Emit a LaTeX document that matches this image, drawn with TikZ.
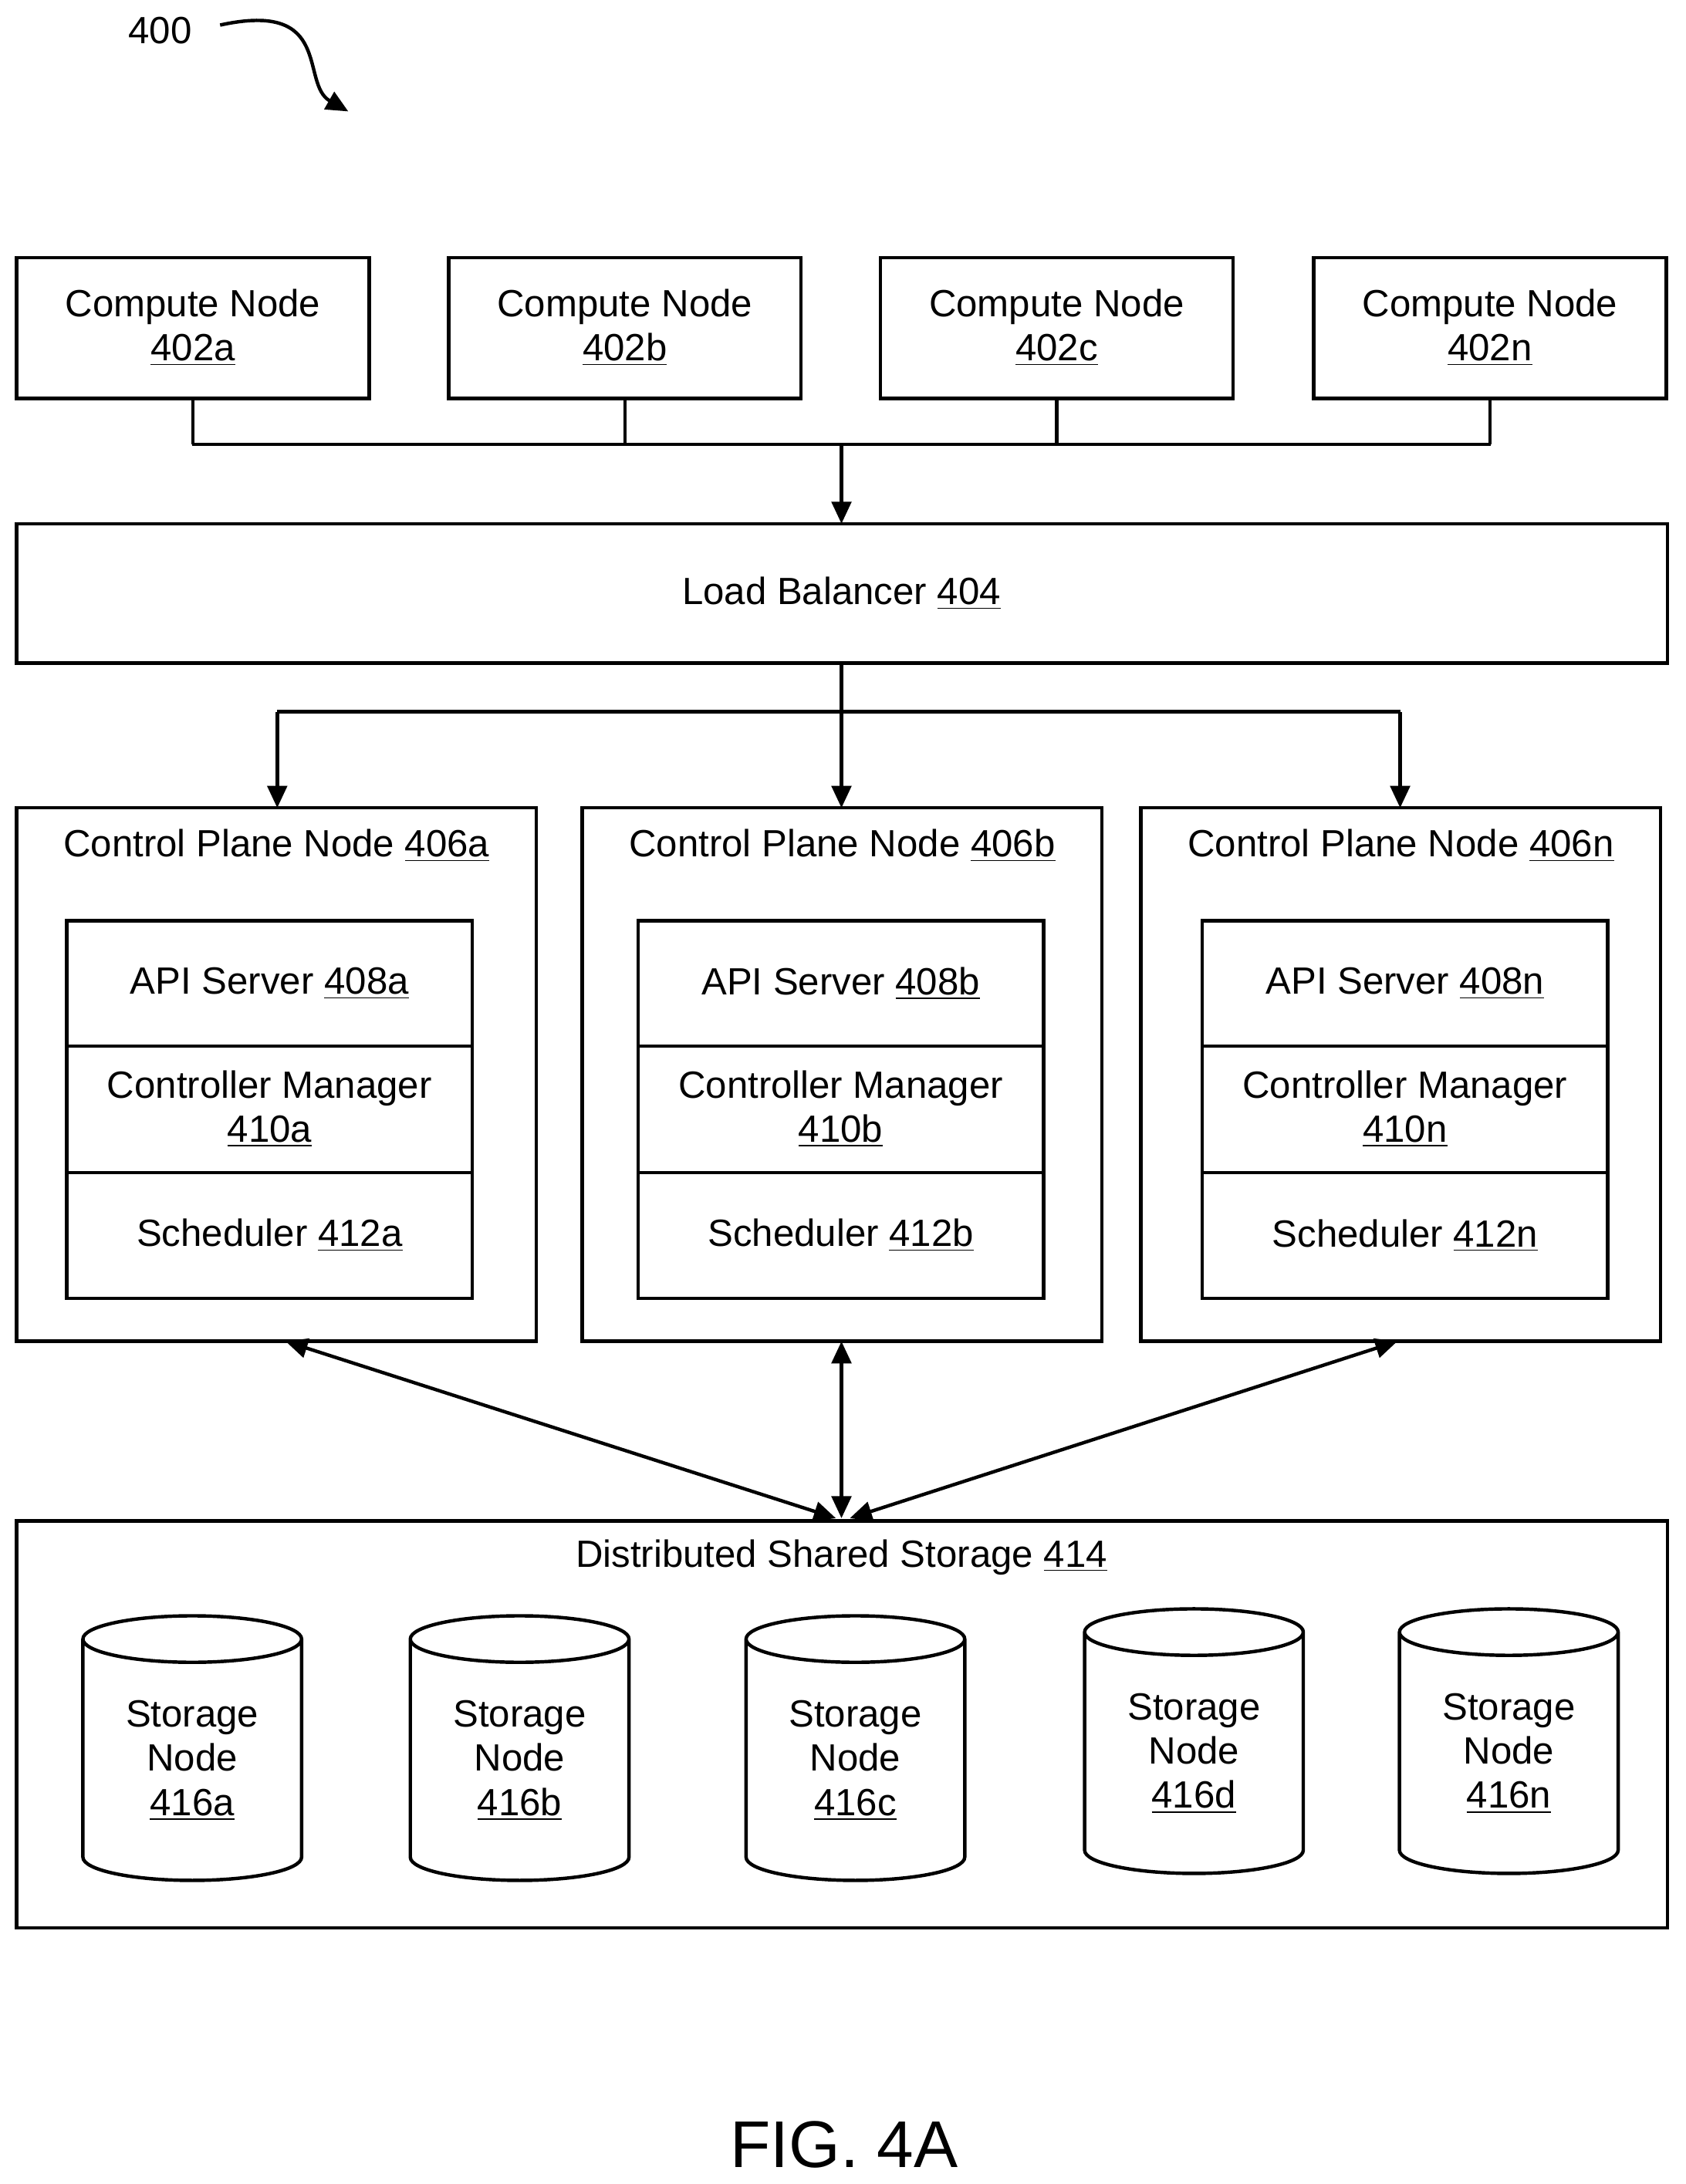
\documentclass[tikz,border=0pt]{standalone}
\usepackage{fontspec}
\setmainfont{Liberation Sans}
\usetikzlibrary{shapes.geometric, arrows.meta}
\newcommand{\refnum}[1]{\underline{#1}}
\tikzset{
	>={Triangle[length=9pt,width=8pt]},
	every node/.style={font=\fontsize{15.5}{18}\selectfont},
	box/.style={draw, line width=1.4pt, inner sep=0pt}, % plain boxes
	link/.style={line width=1.4pt},
	store/.style={draw, line width=1.4pt, cylinder, shape border rotate=90, aspect=0.35,
		minimum width=3.14cm, minimum height=3.8cm, align=center, inner sep=0pt},
}
\begin{document}
\begin{tikzpicture}[x=0.02cm, y=-0.02cm]
	\useasboundingbox (0,0) rectangle (1210,1568);
	% figure number
	\node (fig) at (115,22) {400};
	\coordinate (figend) at (250,80);
	\draw[link, ->] (158,18) .. controls (240,0) and (215,60) .. (figend);

	% compute nodes
	\foreach \x/\id in {12/a, 322/b, 632/c, 943/n} {
		\draw[box] (\x,185) rectangle +(253,101);
		\node[align=center] (cn\id) at (\x+126.5,235) {Compute Node\\\refnum{402\id}};
		\coordinate (cb\id) at (\x+126.5,286);
		\draw[link] (cb\id) -- (\x+126.5,319);
	}
	\draw[link] (138,319) -- (1070,319);
	\coordinate (bus) at (604,319);
	\draw[box] (12,376) rectangle (1197,476);
	\node (lb) at (604,426) {Load Balancer \refnum{404}};
	\draw[link, ->] (bus) -- (604,376);

	% control plane
	\draw[link] (604,476) -- (604,511);
	\draw[link] (199,511) -- (1005,511);
	\foreach \cx in {199, 604, 1005}
		\draw[link, ->] (\cx,511) -- (\cx,580);
	\foreach \x/\ix/\id in {12/48/a, 418/458/b, 819/863/n} {
		\draw[box] (\x,580) rectangle +(373,383);
		\node (cp\id) at (\x+186.5,607) {Control Plane Node \refnum{406\id}};
		\draw[box] (\ix,661) rectangle +(291,271);
		\draw[link] (\ix,751) -- +(291,0);
		\draw[link] (\ix,842) -- +(291,0);
		\node (api\id) at (\ix+145.5,706) {API Server \refnum{408\id}};
		\node[align=center] (cm\id) at (\ix+145.5,796) {Controller Manager\\\refnum{410\id}};
		\node (sch\id) at (\ix+145.5,887) {Scheduler \refnum{412\id}};
	}

	% shared storage
	\draw[box] (12,1092) rectangle (1197,1384);
	\node (dss) at (604,1118) {Distributed Shared Storage \refnum{414}};
	\draw[link, <->] (205,963) -- (600,1090);
	\draw[link, <->] (604,963) -- (604,1090);
	\draw[link, <->] (1003,963) -- (610,1090);
	\foreach \cx/\cy/\id in {138/1264/a, 373/1264/b, 614/1264/c, 857/1259/d, 1083/1259/n}
		\node[store] (sn\id) at (\cx,\cy) {Storage\\Node\\\refnum{416\id}};

	\node[font=\fontsize{27}{32}\selectfont] (cap) at (606,1540) {FIG. 4A};
\end{tikzpicture}
\end{document}
